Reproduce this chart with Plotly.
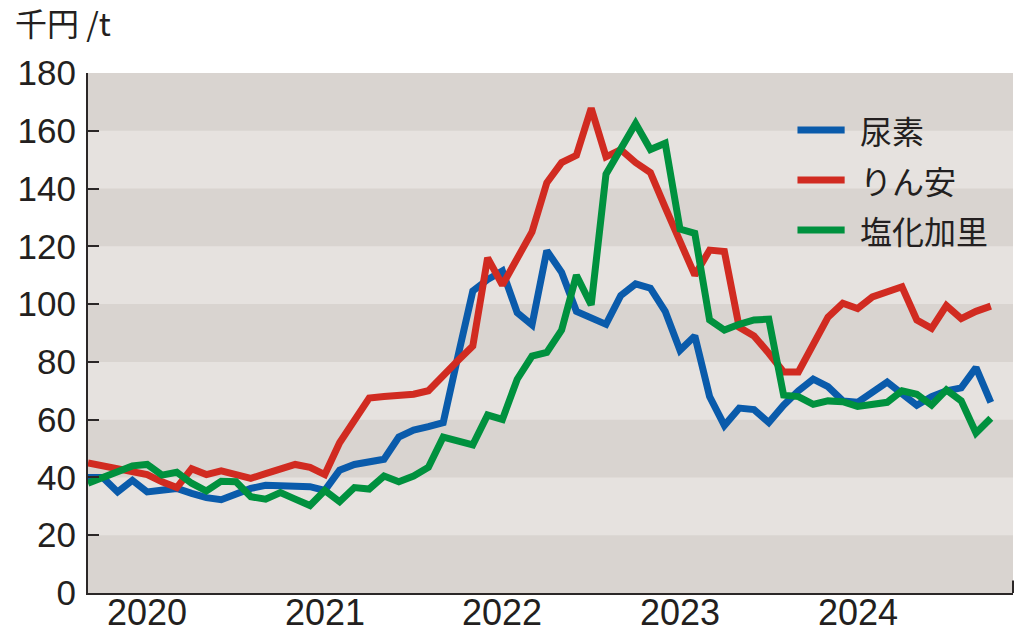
import plotly.graph_objects as go

# ---- data (monthly, Sep 2019 .. Oct 2024), unit: 千円/t ----
month_index = list(range(62))
year_ticks = [4, 16, 28, 40, 52]          # January of each year
year_labels = ["2020", "2021", "2022", "2023", "2024"]

series_names = ["尿素", "りん安", "塩化加里"]

urea = [40, 40, 35, 39, 35, 35.8, 36.2, 34.5, 33, 32.3,
        34.3, 36.2, 37.3, 37, 37, 36.8, 35.5, 42.5, 44.5, 45.6,
        46.3, 54, 56.4, 57.6, 59, 82, 104.5, 108.5, 111.5, 97,
        92.8, 118.5, 111, 97.5, 95, 93, 103, 107, 105.5, 97.5,
        84, 89, 68, 58, 64, 63.5, 59, 65, 70, 74,
        71.4, 66.5, 66, 69.5, 73, 69, 65, 68, 70, 71,
        78, 66]

dap = [45, 44, 43, 42.5, 41, 38.5, 36.5, 43, 41, 42.3,
       41, 39.7, 41.3, 42.8, 44.5, 43.5, 41, 52, 60, 67.5,
       68, 68.4, 68.8, 70, 75.5, 80.5, 85.5, 116, 106.6, 116,
       125, 142, 149, 151.5, 167.8, 151, 153.5, 149, 145.5, 133.5,
       121.5, 110, 118.7, 118.2, 92, 89, 83, 76.5, 76.5, 86,
       95.5, 100.3, 98.5, 102.5, 104, 106, 94.5, 91.6, 99.5, 95,
       97.5, 99.3]

potash = [38, 40, 42, 44, 44.5, 40.8, 41.8, 38, 35.3, 38.7,
          38.5, 33.3, 32.5, 34.8, 32.5, 30.3, 35.5, 31.6, 36.5, 36,
          40.5, 38.5, 40.5, 43.5, 54, 52.5, 51.3, 61.6, 60.1, 74,
          82, 83.3, 91, 110, 99.7, 145, 154, 162.5, 153.5, 155.7,
          126, 124.5, 94.5, 91, 93, 94.5, 94.8, 68.5, 68, 65.3,
          66.5, 66.2, 64.6, 65, 66, 70, 68.8, 65, 70.3, 66.5,
          55.4, 60.5]

y_ticks = [0, 20, 40, 60, 80, 100, 120, 140, 160, 180]
unit_label = "千円 /t"

# ---- styles ----
colors = ["#0a5bab", "#d12b21", "#00913e"]
band_dark = "#d9d4d0"
band_light = "#e6e2df"
axis_color = "#2b2727"
text_color = "#231f20"
num_font = "Liberation Sans, Arial, sans-serif"
cjk_font = "Noto Sans CJK JP, sans-serif"
line_w = 7

fig = go.Figure()
for name, vals, col in zip(series_names, [urea, dap, potash], colors):
    fig.add_trace(go.Scatter(x=month_index, y=vals, mode="lines", name=name,
                             line=dict(color=col, width=line_w), hoverinfo="skip"))

shapes = []
# alternating horizontal bands (dark ones on light background)
for lo, hi in zip(y_ticks[:-1], y_ticks[1:]):
    if (lo // 20) % 2 == 0:
        shapes.append(dict(type="rect", xref="x domain", yref="y", x0=0, x1=1,
                           y0=lo, y1=hi, fillcolor=band_dark, line=dict(width=0),
                           layer="below"))
# small tick at the right end of the x axis
shapes.append(dict(type="line", xref="x domain", yref="y domain", x0=1, x1=1,
                   y0=0, y1=0.024, line=dict(color=axis_color, width=2)))

annotations = [dict(text=unit_label, xref="paper", yref="paper", x=-0.081, y=1.098,
                    xanchor="left", yanchor="middle", showarrow=False,
                    font=dict(family=cjk_font, size=32, color=text_color))]

# year labels under the x axis
for xv, lab in zip(year_ticks, year_labels):
    annotations.append(dict(text=lab, xref="x", yref="paper", x=xv, y=-0.037,
                            xanchor="center", yanchor="middle", showarrow=False,
                            font=dict(family=num_font, size=36, color=text_color)))

# manual legend
leg_y = [0.8904, 0.7942, 0.6981]
for name, col, yy in zip(series_names, colors, leg_y):
    shapes.append(dict(type="line", xref="paper", yref="paper", x0=0.767, x1=0.818,
                       y0=yy, y1=yy, line=dict(color=col, width=line_w)))
    annotations.append(dict(text=name, xref="paper", yref="paper", x=0.832, y=yy,
                            xanchor="left", yanchor="middle", showarrow=False,
                            font=dict(family=cjk_font, size=32, color=text_color)))

fig.update_layout(
    width=1024, height=640,
    margin=dict(l=88, r=11, t=73, b=47, autoexpand=False),
    paper_bgcolor="white", plot_bgcolor=band_light,
    showlegend=False,
    shapes=shapes, annotations=annotations,
    font=dict(family=num_font, color=text_color),
)
fig.update_xaxes(range=[0, 62.5], tickvals=year_ticks, showticklabels=False,
                 ticks="", showgrid=False, zeroline=False, automargin=False,
                 showline=True, linecolor=axis_color, linewidth=2)
fig.update_yaxes(range=[0, 180], tickvals=y_ticks, ticks="inside", ticklen=11,
                 tickwidth=2, tickcolor=axis_color, showgrid=False, zeroline=False,
                 showline=True, linecolor=axis_color, linewidth=2, automargin=False,
                 ticklabelstandoff=3,
                 tickfont=dict(family=num_font, size=35, color=text_color))

fig.write_html("out.html")
